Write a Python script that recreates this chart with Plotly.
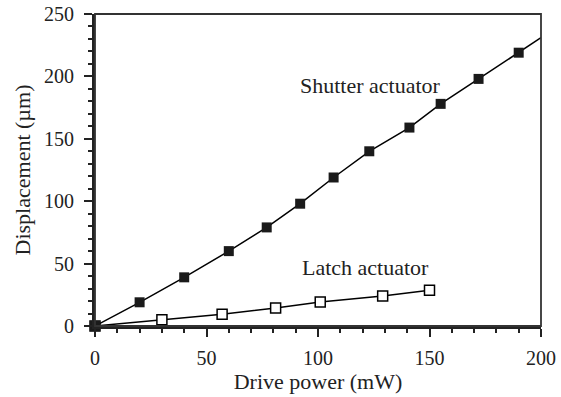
import plotly.graph_objects as go

# Data
shutter_x = [0, 20, 40, 60, 77, 92, 107, 123, 141, 155, 172, 190]
shutter_y = [0, 19, 39, 60, 79, 98, 119, 140, 159, 178, 198, 219]
# line continues past the last point to the right edge of the axes
shutter_line_x = shutter_x + [200]
shutter_line_y = shutter_y + [231]

latch_x = [0, 30, 57, 81, 101, 129, 150]
latch_y = [0, 5, 9.4, 14.4, 19.2, 24, 28.6]

x_ticks = [0, 50, 100, 150, 200]
y_ticks = [0, 50, 100, 150, 200, 250]

labels = [
    {"text": "Shutter actuator", "x": 123.5, "y": 193},
    {"text": "Latch actuator", "x": 121.5, "y": 47},
]

FONT = "Liberation Serif, Times New Roman, serif"

fig = go.Figure()

# Latch actuator
fig.add_trace(go.Scatter(
    x=latch_x, y=latch_y, mode="lines+markers",
    line=dict(color="black", width=1.5),
    marker=dict(symbol="square", size=10, color="white",
                line=dict(color="black", width=1.5)),
    cliponaxis=False, showlegend=False,
))

# Shutter actuator line
fig.add_trace(go.Scatter(
    x=shutter_line_x, y=shutter_line_y, mode="lines",
    line=dict(color="black", width=1.5),
    cliponaxis=True, showlegend=False,
))
# Shutter actuator markers
fig.add_trace(go.Scatter(
    x=shutter_x, y=shutter_y, mode="markers",
    marker=dict(symbol="square", size=10, color="#1a1a1a",
                line=dict(color="#1a1a1a", width=0)),
    cliponaxis=False, showlegend=False,
))

for lab in labels:
    fig.add_annotation(x=lab["x"], y=lab["y"], text=lab["text"],
                       showarrow=False, font=dict(family=FONT, size=22, color="#222"))

# thin box on top/right
fig.add_shape(type="rect", xref="paper", yref="paper", x0=0, y0=0, x1=1, y1=1,
              line=dict(color="#333", width=1.8), layer="above")

fig.update_layout(
    width=561, height=397,
    margin=dict(l=95, r=20, t=14, b=71),
    plot_bgcolor="white", paper_bgcolor="white",
    font=dict(family=FONT, size=20, color="#222"),
    xaxis=dict(
        range=[0, 200], tickvals=x_ticks, ticks="outside", ticklen=8, tickwidth=2,
        tickcolor="#222", showline=True, linewidth=3, linecolor="#222",
        showgrid=False, zeroline=False, automargin=False,
        minor=dict(dtick=10, ticks="outside", ticklen=4, tickwidth=2,
                   tickcolor="#222", showgrid=False),
        title=dict(text="Drive power (mW)", font=dict(size=22), standoff=6),
        ticklabelstandoff=4,
    ),
    yaxis=dict(
        range=[0, 250], tickvals=y_ticks, ticks="outside", ticklen=8, tickwidth=2,
        tickcolor="#222", showline=True, linewidth=3, linecolor="#222",
        showgrid=False, zeroline=False, automargin=False,
        minor=dict(dtick=10, ticks="outside", ticklen=4, tickwidth=2,
                   tickcolor="#222", showgrid=False),
        title=dict(text="Displacement (µm)", font=dict(size=22), standoff=8),
        ticklabelstandoff=6,
    ),
)

fig.write_html("out.html", config={"displayModeBar": False},
               post_script="document.body.style.margin='0';")
